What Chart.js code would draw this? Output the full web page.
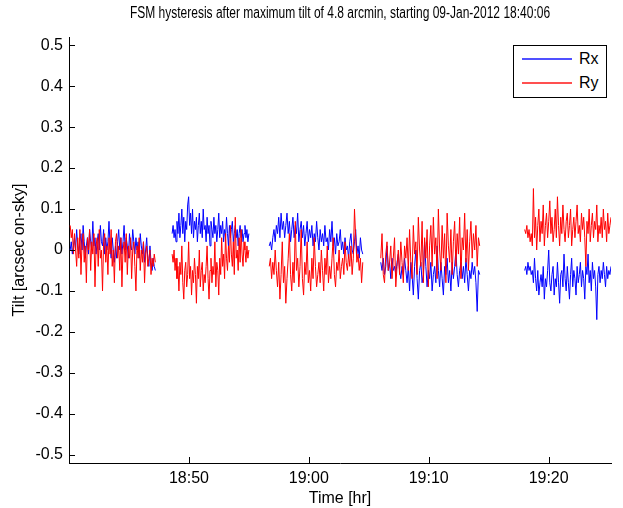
<!DOCTYPE html>
<html>
<head>
<meta charset="utf-8">
<script src="https://cdn.jsdelivr.net/npm/chart.js@4.4.1/dist/chart.umd.min.js"></script>
<style>
  html,body{margin:0;padding:0;background:#fff;}
  #wrap{position:relative;width:623px;height:508px;}
  #legend{position:absolute;left:513px;top:45px;width:94px;height:53px;border:1px solid #000;background:#fff;box-sizing:border-box;font-family:"Liberation Sans",Arial,sans-serif;font-size:16px;line-height:16px;}
  .row{position:absolute;left:8px;height:16px;}
  .ln{position:absolute;left:0;top:5px;width:50px;height:2px;}
  .lt{position:absolute;left:57px;top:-2px;}
</style>
</head>
<body>
<div id="wrap">
<canvas id="c" width="623" height="508"></canvas>
<div id="legend">
  <div class="row" style="top:7px"><div class="ln" style="background:#5050ff"></div><div class="lt">Rx</div></div>
  <div class="row" style="top:31px"><div class="ln" style="background:#ff5050"></div><div class="lt">Ry</div></div>
</div>
</div>
<script>
// minutes since 18:40:00
const startClock = [18, 40];
const segStart = [0.1, 8.6, 16.7, 26.0, 38.0];
const segEnd   = [7.2, 15.0, 24.5, 34.25, 45.2];
const xTickValues = [10, 20, 30, 40];
const yTickValues = [-0.5,-0.4,-0.3,-0.2,-0.1,0,0.1,0.2,0.3,0.4,0.5];

const rx1 = [0.00,0.02,-0.01,0.01,0.03,0.00,0.05,0.01,-0.01,0.02,0.04,0.00,0.06,0.02,-0.02,0.01,0.03,-0.01,0.05,0.02,0.00,0.07,0.01,0.03,-0.01,0.02,0.04,0.00,0.06,0.02,0.01,0.05,-0.01,0.03,0.00,0.02,0.07,0.01,-0.02,0.03,0.00,-0.03,0.01,-0.02,0.02,0.05,0.00,0.03,-0.01,0.02,0.06,0.00,0.03,0.01,-0.02,0.04,0.01,0.00,0.05,0.02,-0.01,0.03,0.00,0.02,-0.02,0.04,0.01,-0.01,0.02,-0.03,0.00,0.03,-0.02,-0.04,0.01,-0.03,-0.05,-0.02,-0.04,-0.05];
const rx2 = [0.04,0.06,0.03,0.05,0.02,0.07,0.04,0.09,0.03,0.06,0.10,0.04,0.08,0.02,0.07,0.05,0.11,0.13,0.06,0.09,0.04,0.10,0.03,0.07,0.05,0.08,0.02,0.06,0.09,0.04,0.07,0.03,0.10,0.05,0.06,0.02,0.08,0.04,0.06,0.01,0.07,0.05,0.03,0.08,0.04,0.06,0.02,0.05,0.09,0.03,0.06,0.04,0.07,0.02,0.05,0.03,0.08,0.04,0.01,0.06,0.03,0.05,0.07,0.02,0.04,0.06,0.03,0.05,0.01,0.04,0.06,0.03,0.05,0.02,0.04,0.06,0.03,0.05,0.02,0.04];
const rx3 = [0.01,0.02,0.00,0.03,0.05,0.02,0.06,0.04,0.08,0.03,0.09,0.05,0.07,0.03,0.06,0.09,0.04,0.07,0.02,0.05,0.08,0.03,0.06,0.04,0.09,0.02,0.05,0.07,0.03,0.06,0.01,0.04,0.07,0.02,0.05,0.03,0.06,0.01,0.04,0.02,0.07,0.03,0.00,0.05,0.02,0.04,0.01,0.06,0.02,0.03,0.00,0.05,0.02,0.07,0.01,0.03,-0.01,0.04,0.01,0.02,0.05,0.00,0.02,-0.01,0.03,0.00,0.01,-0.02,0.02,0.04,0.00,-0.01,0.02,0.05,-0.01,0.01,-0.02,0.03,0.00,-0.01];
const rx4 = [-0.03,-0.05,-0.02,-0.06,-0.04,0.01,-0.05,-0.03,-0.07,-0.02,-0.05,-0.04,-0.06,-0.03,-0.01,-0.05,-0.07,-0.04,-0.06,-0.02,-0.05,-0.08,-0.04,-0.10,-0.03,-0.06,-0.11,-0.04,0.00,-0.07,-0.12,-0.05,-0.03,-0.08,-0.06,0.02,-0.04,-0.09,-0.05,-0.07,-0.03,-0.10,-0.06,-0.04,-0.08,0.01,-0.05,-0.09,-0.03,-0.07,-0.11,-0.04,-0.06,-0.02,-0.08,-0.05,-0.10,-0.03,-0.07,-0.04,0.00,-0.06,-0.09,-0.05,-0.03,-0.07,-0.04,-0.08,-0.02,-0.06,-0.10,-0.05,-0.07,-0.03,-0.06,-0.04,-0.08,-0.15,-0.05,-0.06];
const rx5 = [-0.05,-0.04,-0.06,-0.03,-0.05,-0.04,-0.06,-0.05,-0.08,-0.02,-0.07,-0.10,-0.05,-0.11,-0.08,-0.06,-0.09,-0.04,-0.12,-0.07,-0.09,-0.05,0.00,-0.08,-0.10,-0.06,-0.04,-0.11,-0.07,-0.09,-0.03,-0.08,-0.13,-0.06,-0.05,-0.09,-0.01,-0.07,-0.10,-0.04,-0.08,-0.12,-0.06,-0.02,-0.09,-0.05,-0.07,-0.11,-0.04,-0.08,-0.06,-0.03,-0.09,-0.05,-0.07,-0.12,-0.04,-0.06,-0.01,-0.08,-0.05,-0.10,-0.03,-0.07,-0.05,-0.09,-0.17,-0.06,-0.04,-0.08,-0.05,-0.07,-0.03,-0.06,-0.09,-0.04,-0.07,-0.05,-0.06,-0.04];

const ry1 = [0.06,0.03,0.05,-0.01,0.04,0.00,-0.04,0.03,-0.02,0.05,-0.06,0.02,0.04,-0.03,0.01,-0.08,0.03,0.00,0.05,-0.05,0.02,-0.01,0.04,-0.09,0.01,0.03,-0.04,0.05,-0.02,0.00,-0.10,0.02,0.04,-0.03,0.01,-0.06,0.03,-0.01,0.05,-0.04,0.00,-0.08,0.02,0.04,-0.02,0.01,-0.05,0.03,-0.09,0.00,0.02,-0.03,0.04,-0.06,0.01,-0.02,0.03,-0.07,0.00,0.02,-0.04,-0.10,0.01,-0.02,0.03,-0.05,0.00,-0.03,0.02,-0.08,-0.01,0.01,-0.04,-0.02,0.00,-0.06,-0.02,-0.04,-0.01,-0.03];
const ry2 = [-0.01,-0.03,0.00,-0.05,-0.02,-0.07,-0.04,-0.10,-0.03,-0.06,0.01,-0.08,-0.12,-0.05,-0.03,-0.09,-0.06,0.02,-0.07,-0.04,-0.11,-0.05,-0.08,-0.02,-0.06,-0.13,-0.04,-0.07,0.00,-0.09,-0.05,-0.03,-0.10,-0.06,-0.08,-0.04,0.01,-0.07,-0.12,-0.05,-0.02,-0.08,-0.04,-0.06,0.02,-0.09,-0.03,-0.05,-0.11,-0.02,-0.06,0.03,-0.04,-0.01,-0.07,0.04,-0.02,-0.05,0.01,-0.03,0.06,-0.01,-0.04,0.02,-0.06,0.08,-0.02,0.00,-0.05,0.03,-0.03,0.05,-0.01,-0.04,0.02,0.00,-0.03,0.01,-0.02,0.00];
const ry3 = [-0.04,-0.02,-0.07,-0.03,-0.06,0.00,-0.05,-0.09,-0.03,-0.12,-0.06,0.02,-0.08,-0.04,-0.13,-0.07,-0.02,0.04,-0.06,-0.10,-0.03,-0.08,0.07,-0.05,-0.02,-0.09,-0.04,0.05,-0.07,-0.11,-0.03,-0.06,0.02,-0.08,-0.05,-0.10,-0.02,-0.07,0.03,-0.04,-0.09,-0.06,-0.03,-0.08,0.00,-0.05,-0.10,-0.02,-0.06,0.01,-0.08,-0.04,-0.07,-0.02,0.03,-0.06,-0.09,-0.03,-0.05,0.00,-0.07,-0.04,-0.02,-0.06,0.02,-0.03,-0.05,-0.01,-0.04,0.01,-0.06,-0.02,0.10,0.03,-0.03,-0.01,-0.05,-0.02,-0.08,-0.03];
const ry4 = [-0.02,0.04,-0.06,-0.08,-0.01,0.02,-0.05,-0.03,0.01,-0.07,-0.02,0.03,-0.09,-0.04,0.00,-0.06,0.02,-0.03,-0.08,0.01,-0.02,0.03,-0.05,0.05,-0.03,-0.07,0.06,-0.01,0.02,-0.06,0.08,0.00,-0.04,0.07,-0.08,0.03,-0.02,0.05,-0.09,0.01,0.06,-0.04,0.08,-0.01,0.03,-0.07,0.10,0.00,-0.05,0.06,-0.02,0.04,-0.08,0.09,0.01,-0.03,0.05,-0.06,0.02,0.07,-0.04,0.04,-0.01,0.08,-0.07,0.03,0.00,0.09,-0.03,0.05,-0.05,0.02,0.07,-0.02,0.04,0.00,0.06,-0.04,0.03,0.01];
const ry5 = [0.05,0.04,0.06,0.03,0.05,0.02,0.04,0.01,0.15,0.03,0.08,0.00,0.06,0.10,0.02,0.07,0.04,0.11,0.01,0.06,0.09,0.03,0.07,0.12,0.04,0.08,0.02,0.05,0.10,0.03,0.13,0.06,0.01,0.08,0.04,0.11,0.05,0.02,0.07,0.09,0.03,0.06,0.10,0.01,0.05,0.08,0.03,0.07,0.11,0.04,0.06,0.02,0.09,0.05,0.08,0.03,-0.04,0.07,0.04,0.10,0.02,0.06,0.09,0.03,0.07,0.05,0.11,0.02,0.06,0.04,0.08,0.03,0.10,0.05,0.07,0.02,0.09,0.04,0.06,0.08];

const rxSegs = [rx1, rx2, rx3, rx4, rx5];
const rySegs = [ry1, ry2, ry3, ry4, ry5];

function buildPoints(segs) {
  const pts = [];
  segs.forEach((vals, s) => {
    const n = vals.length;
    const dt = (segEnd[s] - segStart[s]) / (n - 1);
    vals.forEach((v, i) => pts.push({x: segStart[s] + i * dt, y: v}));
    if (s < segs.length - 1) pts.push({x: (segEnd[s] + segStart[s + 1]) / 2, y: null});
  });
  return pts;
}

function clockLabel(m) {
  const tot = startClock[0] * 60 + startClock[1] + m;
  const h = Math.floor(tot / 60), mm = Math.round(tot % 60);
  return h + ':' + String(mm).padStart(2, '0');
}

const FONT = 'Liberation Sans';

const inwardTicks = {
  id: 'inwardTicks',
  afterDraw(chart) {
    const ctx = chart.ctx, xs = chart.scales.x, ys = chart.scales.y, a = chart.chartArea;
    ctx.save();
    ctx.strokeStyle = '#000';
    ctx.lineWidth = 1;
    ctx.beginPath();
    xs.ticks.forEach(t => {
      const p = Math.round(xs.getPixelForValue(t.value)) + 0.5;
      ctx.moveTo(p, a.bottom); ctx.lineTo(p, a.bottom - 6);
    });
    ys.ticks.forEach(t => {
      const p = Math.round(ys.getPixelForValue(t.value)) + 0.5;
      ctx.moveTo(a.left, p); ctx.lineTo(a.left + 6, p);
    });
    ctx.stroke();
    // title centred over plot area (condensed face)
    ctx.fillStyle = '#000';
    ctx.font = '16px "' + FONT + '"';
    ctx.textAlign = 'center';
    ctx.textBaseline = 'middle';
    ctx.translate((a.left + a.right) / 2, 14);
    ctx.scale(0.75, 1);
    ctx.fillText('FSM hysteresis after maximum tilt of 4.8 arcmin, starting 09-Jan-2012 18:40:06', 0, 0);
    ctx.restore();
  }
};

new Chart(document.getElementById('c'), {
  type: 'line',
  data: {
    datasets: [
      {label: 'Rx', data: buildPoints(rxSegs), borderColor: '#0000ff', borderWidth: 1, pointRadius: 0, spanGaps: false, order: 2, tension: 0},
      {label: 'Ry', data: buildPoints(rySegs), borderColor: '#ff0000', borderWidth: 1, pointRadius: 0, spanGaps: false, order: 1, tension: 0}
    ]
  },
  options: {
    responsive: false,
    animation: false,
    events: [],
    layout: {padding: {left: 0, right: 12, top: 37, bottom: 0}},
    plugins: {legend: {display: false}, tooltip: {enabled: false}, title: {display: false}},
    scales: {
      x: {
        type: 'linear', min: 0, max: 45.2,
        afterBuildTicks: s => { s.ticks = xTickValues.map(v => ({value: v})); },
        afterFit: s => { s.height = 45; },
        grid: {drawOnChartArea: false, drawTicks: false},
        border: {display: true, color: '#000', width: 1},
        ticks: {color: '#000', padding: 6, maxRotation: 0, font: {family: FONT, size: 16}, callback: v => clockLabel(v)},
        title: {display: true, text: 'Time [hr]', color: '#000', font: {family: FONT, size: 16}, padding: {top: 0, bottom: 0}}
      },
      y: {
        type: 'linear', min: -0.52, max: 0.52,
        afterBuildTicks: s => { s.ticks = yTickValues.map(v => ({value: v})); },
        afterFit: s => { s.width = 69; },
        grid: {drawOnChartArea: false, drawTicks: false},
        border: {display: true, color: '#000', width: 1},
        ticks: {color: '#000', padding: 6, font: {family: FONT, size: 16}, callback: v => Math.abs(v) < 1e-9 ? '0' : v.toFixed(1)},
        title: {display: true, text: 'Tilt [arcsec on-sky]', color: '#000', font: {family: FONT, size: 16}, padding: {top: 10, bottom: 0}}
      }
    }
  },
  plugins: [inwardTicks]
});
</script>
</body>
</html>
